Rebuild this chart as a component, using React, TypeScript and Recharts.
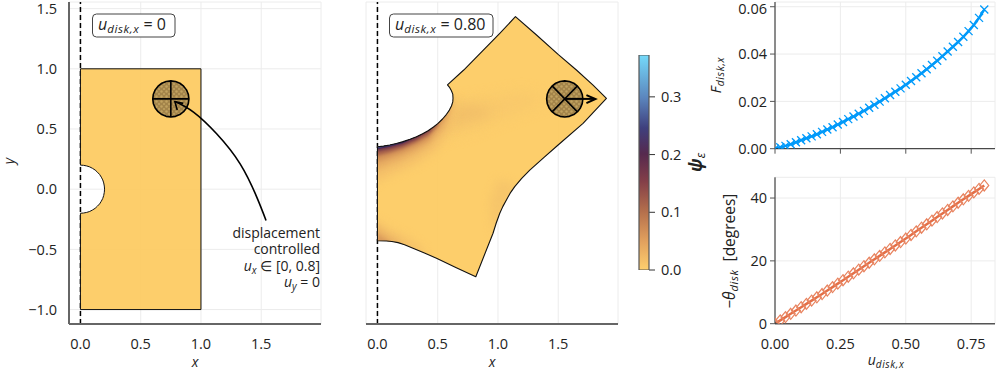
import { ScatterChart, Scatter, LineChart, Line, XAxis, YAxis, CartesianGrid, ReferenceLine } from 'recharts';

const W = 996;
const H = 373;
const FONT = '"Open Sans", sans-serif';
const GRID = '#ececec';
const TICK = { fill: '#222', fontSize: 14.5, fontFamily: FONT };

type Pt = { x: number; y: number };
const pts = (raw: number[][]): Pt[] => raw.map(([x, y]) => ({ x, y }));

// tick labels
const domainXTicks = [0, 0.5, 1, 1.5];
const domainYTicks = [-1, -0.5, 0, 0.5, 1, 1.5];
const cbarTicks = [0, 0.1, 0.2, 0.3];
const uTicks = [0, 0.25, 0.5, 0.75];
const forceTicks = [0, 0.02, 0.04, 0.06];
const thetaTicks = [0, 20, 40];

// load history
const uValues = [0, 0.02, 0.04, 0.06, 0.08, 0.1, 0.12, 0.14, 0.16, 0.18, 0.2, 0.22, 0.24, 0.26, 0.28, 0.3, 0.32, 0.34, 0.36, 0.38, 0.4, 0.42, 0.44, 0.46, 0.48, 0.5, 0.52, 0.54, 0.56, 0.58, 0.6, 0.62, 0.64, 0.66, 0.68, 0.7, 0.72, 0.74, 0.76, 0.78, 0.8];
const forces = [0, 0.0006, 0.0012, 0.0019, 0.0027, 0.0036, 0.0044, 0.0052, 0.0061, 0.0071, 0.0081, 0.0091, 0.0102, 0.0113, 0.0125, 0.0136, 0.0148, 0.016, 0.0173, 0.0186, 0.0199, 0.0213, 0.0227, 0.0241, 0.0255, 0.027, 0.0286, 0.0302, 0.0319, 0.0336, 0.0354, 0.0372, 0.0391, 0.0411, 0.0431, 0.0451, 0.0473, 0.0497, 0.0523, 0.0553, 0.0588];
const thetas = [0, 1.05, 2.1, 3.15, 4.2, 5.25, 6.3, 7.35, 8.4, 9.45, 10.55, 11.65, 12.75, 13.85, 14.95, 16.05, 17.2, 18.3, 19.4, 20.5, 21.6, 22.7, 23.8, 24.9, 26, 27.1, 28.25, 29.4, 30.55, 31.65, 32.8, 33.95, 35.1, 36.2, 37.35, 38.5, 39.6, 40.7, 41.8, 42.9, 44];
const history = uValues.map((u, i) => ({ u, force: forces[i], theta: thetas[i] }));

// undeformed plate
const plateOutline = pts([[0, -1], [1, -1], [1, 1], [0, 1], [0, 0.2], [0.026, 0.198], [0.052, 0.193], [0.077, 0.185], [0.1, 0.173], [0.122, 0.159], [0.141, 0.141], [0.159, 0.122], [0.173, 0.1], [0.185, 0.077], [0.193, 0.052], [0.198, 0.026], [0.2, 0], [0.198, -0.026], [0.193, -0.052], [0.185, -0.077], [0.173, -0.1], [0.159, -0.122], [0.141, -0.141], [0.122, -0.159], [0.1, -0.173], [0.077, -0.185], [0.052, -0.193], [0.026, -0.198], [0, -0.2]]);

// disk, as offsets from its centre
const diskRing = [[0.15, 0], [0.145, 0.039], [0.13, 0.075], [0.106, 0.106], [0.075, 0.13], [0.039, 0.145], [0, 0.15], [-0.039, 0.145], [-0.075, 0.13], [-0.106, 0.106], [-0.13, 0.075], [-0.145, 0.039], [-0.15, 0], [-0.145, -0.039], [-0.13, -0.075], [-0.106, -0.106], [-0.075, -0.13], [-0.039, -0.145], [0, -0.15], [0.039, -0.145], [0.075, -0.13], [0.106, -0.106], [0.13, -0.075], [0.145, -0.039]];
const disk0 = pts(diskRing.map(([dx, dy]) => [0.75 + dx, 0.75 + dy]));
const disk1 = pts(diskRing.map(([dx, dy]) => [1.554 + dx, 0.75 + dy]));
const disk0Spokes = [pts([[0.6, 0.75], [0.9, 0.75]]), pts([[0.75, 0.6], [0.75, 0.9]])];
const disk1Spokes = [pts([[1.449, 0.642], [1.659, 0.858]]), pts([[1.449, 0.858], [1.659, 0.642]])];

// annotation arrows
const pointerCurve = pts([[1.54, -0.26], [1.463, -0.066], [1.325, 0.21], [1.13, 0.46], [0.938, 0.64], [0.786, 0.728]]);
const pointerHead = pts([[0.853, 0.713], [0.784, 0.727], [0.803, 0.658]]);
const pullShaft = pts([[1.554, 0.75], [1.8, 0.75]]);
const pullHead = pts([[1.734, 0.782], [1.809, 0.749], [1.734, 0.715]]);

// deformed plate
const deformedOutline = pts([
  [0, 0.353], [0.05, 0.358], [0.102, 0.367], [0.157, 0.38], [0.212, 0.395], [0.27, 0.414], [0.324, 0.436], [0.375, 0.46], [0.42, 0.486], [0.465, 0.517], [0.503, 0.547], [0.54, 0.583], [0.573, 0.622], [0.597, 0.657], [0.614, 0.691], [0.625, 0.725], [0.627, 0.755], [0.625, 0.79], [0.614, 0.818], [0.6, 0.843], [0.581, 0.866],
  [0.716, 0.99], [1.015, 1.295], [1.145, 1.433], [1.32, 1.281], [1.499, 1.12], [1.651, 0.99], [1.789, 0.865], [1.9, 0.755],
  [1.706, 0.547], [1.499, 0.367], [1.38, 0.262], [1.264, 0.159], [1.195, 0.087], [1.139, 0.021], [1.1, -0.035], [1.07, -0.09], [1.04, -0.145], [1.015, -0.2], [0.985, -0.283], [0.959, -0.366], [0.816, -0.727],
  [0.65, -0.65], [0.49, -0.574], [0.39, -0.53], [0.295, -0.491], [0.225, -0.461], [0.171, -0.444], [0.12, -0.434], [0.075, -0.43], [0, -0.428],
]);

// strain contours, palest first; they run past the outline and get clipped to it
const holeAbove = [[-0.1, 0.44], [0.1, 0.45], [0.21, 0.48], [0.32, 0.52], [0.42, 0.57], [0.5, 0.63], [0.57, 0.7], [0.61, 0.76]];
const bandColors = ['#f5c169', '#e8ad62', '#d08e56', '#a5604b', '#6f3649', '#452a58', '#3c4f90'];
const bandBlurs = [4, 3, 2.5, 1.6, 1, 0.7, 0.5];
const bandEnds = [8, 8, 7, 6, 5, 4, 3];
const bandLowers = [
  [[0.66, 0.74], [0.62, 0.52], [0.5, 0.33], [0.32, 0.21], [0.21, 0.16], [0.1, 0.11], [0, 0.06], [-0.1, 0.06]],
  [[0.61, 0.66], [0.55, 0.5], [0.42, 0.36], [0.32, 0.3], [0.21, 0.245], [0.1, 0.2], [0, 0.16], [-0.1, 0.16]],
  [[0.56, 0.6], [0.42, 0.41], [0.32, 0.355], [0.21, 0.305], [0.1, 0.265], [0, 0.23], [-0.1, 0.23]],
  [[0.5, 0.53], [0.42, 0.445], [0.32, 0.39], [0.21, 0.34], [0.1, 0.305], [0, 0.28], [-0.1, 0.28]],
  [[0.44, 0.49], [0.32, 0.415], [0.21, 0.368], [0.1, 0.336], [0, 0.315], [-0.1, 0.315]],
  [[0.36, 0.45], [0.21, 0.382], [0.1, 0.352], [0, 0.332], [-0.1, 0.332]],
  [[0.24, 0.4], [0.1, 0.36], [0, 0.343], [-0.1, 0.343]],
];
const strainBands = bandLowers.map((lower, i) => pts([...holeAbove.slice(0, bandEnds[i]), ...lower]));
const footColors = ['#f5c269', '#ebb263', '#d99a5b'];
const footBands = [
  pts([[-0.1, -0.26], [0, -0.26], [0.1, -0.33], [0.25, -0.4], [0.38, -0.5], [0.4, -0.62], [0.2, -0.53], [0.1, -0.5], [-0.1, -0.5]]),
  pts([[-0.1, -0.31], [0, -0.31], [0.08, -0.37], [0.16, -0.42], [0.2, -0.47], [0.2, -0.53], [0.1, -0.5], [-0.1, -0.5]]),
  pts([[-0.1, -0.37], [0, -0.37], [0.06, -0.41], [0.1, -0.44], [0.1, -0.5], [-0.1, -0.5]]),
];
const ridgeOuter = pts([[0.5, 0.44], [0.72, 0.48], [0.95, 0.57], [1.2, 0.66], [1.42, 0.74], [1.2, 0.8], [0.95, 0.75], [0.72, 0.72], [0.6, 0.7]]);
const ridgeInner = pts([[0.56, 0.54], [0.72, 0.56], [0.88, 0.6], [0.95, 0.65], [0.8, 0.7], [0.66, 0.68]]);
const neckBand = pts([[1.16, 0.03], [1.0, 0.08], [0.93, -0.1], [0.96, -0.37], [1.03, -0.25], [1.1, -0.06]]);

const colorbarBox = pts([[0, 0], [1, 0], [1, 0.3725], [0, 0.3725]]);
const cmapStops = [
  [0, '#fdcf6e'], [0.13, '#e3a25e'], [0.27, '#b5704c'], [0.41, '#843f48'], [0.54, '#56294e'], [0.66, '#3f3f7d'], [0.8, '#5b85bd'], [1, '#75dafa'],
] as [number, string][];

const toPath = (p: { x: number; y: number }[]) => p.map((q, i) => `${i ? 'L' : 'M'}${q.x} ${q.y}`).join('') + 'Z';
const noDot = () => <g />;

// closed polygon drawn through the axis scales of the surrounding chart
const polygon = (data: Pt[], fill: string, stroke = 'none', sw = 1, fillOpacity = 1) => (
  <Scatter
    data={data}
    isAnimationActive={false}
    shape={noDot}
    line={(p: any) => <path d={toPath(p.points)} fill={fill} fillOpacity={fillOpacity} stroke={stroke} strokeWidth={sw} strokeLinejoin="round" />}
  />
);
// same, blurred and kept inside the body outline
const softBand = (data: Pt[], fill: string, blur: number) => (
  <Scatter
    data={data}
    isAnimationActive={false}
    shape={noDot}
    line={(p: any) => (
      <g clipPath="url(#bodyClip)">
        <path d={toPath(p.points)} fill={fill} style={{ filter: `blur(${blur}px)` }} />
      </g>
    )}
  />
);
const bodyClip = (data: Pt[]) => (
  <Scatter
    data={data}
    isAnimationActive={false}
    shape={noDot}
    line={(p: any) => <clipPath id="bodyClip"><path d={toPath(p.points)} /></clipPath>}
  />
);
const polyline = (data: Pt[], sw: number, joint: any = 'linear') => (
  <Scatter data={data} isAnimationActive={false} shape={noDot} line={{ stroke: '#000', strokeWidth: sw, fill: 'none' }} lineJointType={joint} />
);

const patternDefs = (id: string) => (
  <defs>
    <pattern id={id} width="5" height="5" patternUnits="userSpaceOnUse">
      <rect width="5" height="5" fill="#a3844a" />
      <circle cx="1.5" cy="1.5" r="1.2" fill="#c2a360" />
      <circle cx="4" cy="4" r="1" fill="#c2a360" />
    </pattern>
  </defs>
);

const fmt1 = (v: number) => v.toFixed(1).replace('-', '\u2212');
const xDomain0: [number, number] = [-0.095, 1.996];
const yDomain: [number, number] = [-1.12, 1.555];

function LeftPanel() {
  return (
    <ScatterChart width={W} height={H} margin={{ left: 29, top: 2, right: W - 321, bottom: H - 324 - 30 }} style={{ position: 'absolute', left: 0, top: 0 }}>
      {patternDefs('hatch0')}
      <CartesianGrid stroke={GRID} />
      <XAxis type="number" dataKey="x" domain={xDomain0} ticks={domainXTicks} tickFormatter={fmt1} tick={TICK} tickLine={false} axisLine={{ stroke: '#666', strokeWidth: 2 }} tickMargin={9} height={30} allowDataOverflow />
      <YAxis type="number" dataKey="y" domain={yDomain} ticks={domainYTicks} tickFormatter={fmt1} tick={TICK} tickLine={false} axisLine={{ stroke: '#666', strokeWidth: 2 }} tickMargin={6} width={40} allowDataOverflow />
      {polygon(plateOutline, '#fdca5e', '#111', 1, 0.92)}
      {polygon(disk0, 'url(#hatch0)', '#000', 1.6)}
      {polyline(disk0Spokes[0], 1.6)}
      {polyline(disk0Spokes[1], 1.6)}
      {polyline(pointerCurve, 1.6, 'natural')}
      {polyline(pointerHead, 1.6)}
      <ReferenceLine x={0} stroke="#000" strokeWidth={1.5} strokeDasharray="5 3" />
    </ScatterChart>
  );
}

function MiddlePanel() {
  return (
    <ScatterChart width={W} height={H} margin={{ left: 326, top: 2, right: W - 618, bottom: H - 324 - 30 }} style={{ position: 'absolute', left: 0, top: 0 }}>
      {patternDefs('hatch1')}
      <CartesianGrid stroke={GRID} />
      <XAxis type="number" dataKey="x" domain={xDomain0} ticks={domainXTicks} tickFormatter={fmt1} tick={TICK} tickLine={false} axisLine={{ stroke: '#666', strokeWidth: 2 }} tickMargin={9} height={30} allowDataOverflow />
      <YAxis type="number" dataKey="y" domain={yDomain} ticks={domainYTicks} tick={false} tickLine={false} axisLine={false} width={40} allowDataOverflow />
      {bodyClip(deformedOutline)}
      {polygon(deformedOutline, '#fdca5e', 'none', 1, 0.92)}
      {softBand(ridgeOuter, '#f8c86b', 7)}
      {softBand(ridgeInner, '#f2bf68', 6)}
      {softBand(neckBand, '#f6c56a', 4)}
      {footBands.map((b, i) => softBand(b, footColors[i], 4 - i))}
      {strainBands.map((b, i) => softBand(b, bandColors[i], bandBlurs[i]))}
      {polygon(deformedOutline, 'none', '#111', 1.1)}
      {polygon(disk1, 'url(#hatch1)', '#000', 1.6)}
      {polyline(disk1Spokes[0], 1.6)}
      {polyline(disk1Spokes[1], 1.6)}
      {polyline(pullShaft, 2)}
      {polyline(pullHead, 2)}
      <ReferenceLine x={0} stroke="#000" strokeWidth={1.5} strokeDasharray="5 3" />
    </ScatterChart>
  );
}

function Colorbar() {
  return (
    <ScatterChart width={W} height={H} margin={{ left: 639, top: 55, right: W - 649 - 40, bottom: H - 270 }} style={{ position: 'absolute', left: 0, top: 0 }}>
      <defs>
        <linearGradient id="cmap" x1="0" y1="1" x2="0" y2="0">
          {cmapStops.map(([o, c]) => <stop key={o} offset={o} stopColor={c} />)}
        </linearGradient>
      </defs>
      <XAxis type="number" dataKey="x" domain={[0, 1]} hide />
      <YAxis type="number" dataKey="y" orientation="right" domain={[0, 0.3725]} ticks={cbarTicks} tickFormatter={fmt1} tick={TICK} tickSize={6} tickLine={{ stroke: '#333' }} axisLine={false} tickMargin={6} width={40} allowDataOverflow />
      {polygon(colorbarBox, 'url(#cmap)', '#555', 1.2)}
    </ScatterChart>
  );
}

const Cross = (p: any) => (
  <path key={p.index} d={`M${p.cx - 4} ${p.cy - 4}L${p.cx + 4} ${p.cy + 4}M${p.cx - 4} ${p.cy + 4}L${p.cx + 4} ${p.cy - 4}`} stroke="#009afa" strokeWidth={1.3} fill="none" />
);
const Diamond = (p: any) => (
  <path key={p.index} d={`M${p.cx} ${p.cy - 5.5}L${p.cx + 4.5} ${p.cy}L${p.cx} ${p.cy + 5.5}L${p.cx - 4.5} ${p.cy}Z`} stroke="#e8835f" strokeWidth={1.2} fill="none" />
);

function ForcePanel() {
  return (
    <LineChart width={W} height={H} data={history} margin={{ left: 735, top: 2, right: 1, bottom: H - 148.7 - 30 }} style={{ position: 'absolute', left: 0, top: 0 }}>
      <CartesianGrid stroke={GRID} />
      <XAxis type="number" dataKey="u" domain={[0, 0.841]} ticks={uTicks} tickFormatter={() => ''} tick={TICK} tickSize={5} tickLine={{ stroke: '#555' }} axisLine={{ stroke: '#222' }} height={30} allowDataOverflow />
      <YAxis type="number" domain={[0, 0.062]} ticks={forceTicks} tickFormatter={(v: number) => v.toFixed(2)} tick={TICK} tickSize={5} tickLine={{ stroke: '#555' }} axisLine={{ stroke: '#222' }} tickMargin={3} width={40} allowDataOverflow />
      <Line dataKey="force" stroke="#009afa" strokeWidth={2.5} dot={Cross} activeDot={false} isAnimationActive={false} />
    </LineChart>
  );
}

function ThetaPanel() {
  return (
    <LineChart width={W} height={H} data={history} margin={{ left: 735, top: 177.3, right: 1, bottom: H - 323.7 - 30 }} style={{ position: 'absolute', left: 0, top: 0 }}>
      <CartesianGrid stroke={GRID} />
      <XAxis type="number" dataKey="u" domain={[0, 0.841]} ticks={uTicks} tickFormatter={(v: number) => v.toFixed(2)} tick={TICK} tickLine={false} axisLine={{ stroke: '#555', strokeWidth: 1.5 }} tickMargin={9} height={30} allowDataOverflow />
      <YAxis type="number" domain={[0, 46.6]} ticks={thetaTicks} tick={TICK} tickSize={5} tickLine={{ stroke: '#555' }} axisLine={{ stroke: '#222' }} tickMargin={3} width={40} allowDataOverflow />
      <Line dataKey="theta" stroke="#e36f47" strokeWidth={2.5} dot={Diamond} activeDot={false} isAnimationActive={false} />
    </LineChart>
  );
}

// math labels the axes cannot typeset
function Sym({ x, y, main, sub, rest, size = 14, rotate, anchor = 'middle', weight }: any) {
  return (
    <text x={x} y={y} fontFamily={FONT} fontSize={size} fill="#222" textAnchor={anchor} transform={rotate ? `rotate(-90 ${x} ${y})` : undefined}>
      <tspan fontStyle="italic" fontWeight={weight}>{main}</tspan>
      {sub && <tspan dy={3} fontSize={size * 0.72} fontStyle="italic" letterSpacing={0.6}>{sub}</tspan>}
      {rest && <tspan dy={sub ? -3 : 0}>{rest}</tspan>}
    </text>
  );
}

function Overlay() {
  return (
    <svg width={W} height={H} style={{ position: 'absolute', left: 0, top: 0, pointerEvents: 'none' }}>
      <rect x={92.5} y={14} width={82.5} height={23} rx={4} fill="#fff" stroke="#444" />
      <Sym x={98} y={30} main="u" sub="disk,x" rest={'\u00a0=\u00a00'} size={16} anchor="start" />
      <rect x={389.5} y={14} width={103.5} height={23} rx={4} fill="#fff" stroke="#444" />
      <Sym x={395} y={30} main="u" sub="disk,x" rest={'\u00a0=\u00a00.80'} size={16} anchor="start" />
      <Sym x={195} y={367} main="x" />
      <Sym x={492} y={367} main="x" />
      <Sym x={14} y={161} main="y" rotate />
      <Sym x={886} y={365} main="u" sub="disk,x" />
      <Sym x={721} y={75} main="F" sub="disk,x" size={14.5} rotate />
      <Sym x={735} y={251} main={'\u2212\u03b8'} sub="disk" rest={'\u00a0\u00a0[degrees]'} size={15.5} rotate />
      <Sym x={702} y={162} main={'\u03c8'} sub={'\u03b5'} size={17} weight="bold" rotate />
      <text x={320} y={238} fontFamily={FONT} fontSize={14} fill="#222" textAnchor="end">displacement</text>
      <text x={320} y={254} fontFamily={FONT} fontSize={14} fill="#222" textAnchor="end">controlled</text>
      <text x={320} y={271} fontFamily={FONT} fontSize={14} fill="#222" textAnchor="end">
        <tspan fontStyle="italic">u</tspan><tspan dy={3} fontSize={10} fontStyle="italic">x</tspan><tspan dy={-3}>{'\u00a0∈ [0, 0.8]'}</tspan>
      </text>
      <text x={320} y={287} fontFamily={FONT} fontSize={14} fill="#222" textAnchor="end">
        <tspan fontStyle="italic">u</tspan><tspan dy={3} fontSize={10} fontStyle="italic">y</tspan><tspan dy={-3}>{'\u00a0= 0'}</tspan>
      </text>
    </svg>
  );
}

export default function App() {
  return (
    <div style={{ position: 'absolute', left: 0, top: 0, width: W, height: H, background: '#fff', overflow: 'hidden' }}>
      <LeftPanel />
      <MiddlePanel />
      <Colorbar />
      <ForcePanel />
      <ThetaPanel />
      <Overlay />
    </div>
  );
}
